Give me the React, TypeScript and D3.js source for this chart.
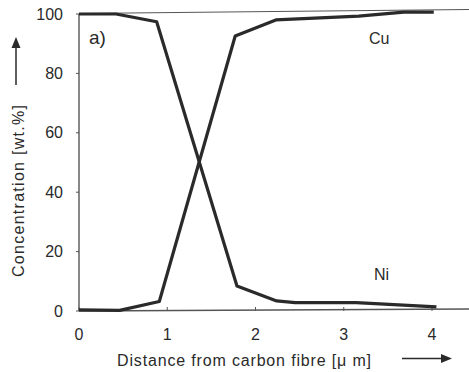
import React from 'react';
import * as d3 from 'd3';

// Ni / Cu concentration profile across the coating
const niX = [0, 0.42, 0.88, 1.79, 2.24, 2.45, 3.14, 4.05];
const niY = [100, 100, 97.4, 8.4, 3.4, 2.8, 2.8, 1.4];
const cuX = [0, 0.46, 0.91, 1.77, 2.23, 3.17, 3.68, 4.02];
const cuY = [0.4, 0.2, 3.2, 92.6, 98, 99.3, 100.6, 100.6];
const xTicks = [0, 1, 2, 3, 4];
const yTicks = [0, 20, 40, 60, 80, 100];

const W = 469;
const H = 372;
const font = 'Liberation Sans, Arial, sans-serif';

export default function App() {
  const x = d3.scaleLinear().domain([0, 4]).range([79, 432]);
  const y = d3.scaleLinear().domain([0, 100]).range([311, 14]);

  const line = d3.line<[number, number]>()
    .x((d) => x(d[0]))
    .y((d) => y(d[1]));

  const ni = niX.map((v, i) => [v, niY[i]] as [number, number]);
  const cu = cuX.map((v, i) => [v, cuY[i]] as [number, number]);

  const ink = '#2a2a2a';
  const axis = '#555';

  return (
    <svg width={W} height={H} style={{ position: 'absolute', left: 0, top: 0, background: '#fff' }}
      fontFamily={font}>
      {/* frame: left, bottom, top */}
      <line x1={x(0)} y1={y(0)} x2={x(0)} y2={y(100)} stroke={axis} strokeWidth={1.4} />
      <line x1={x(0)} y1={y(0)} x2={W} y2={y(0) - 2} stroke={axis} strokeWidth={1.4} />
      <line x1={x(0)} y1={y(100) - 0.5} x2={W} y2={y(100) - 4.5} stroke={axis} strokeWidth={1.2} />

      {yTicks.map((t) => (
        <g key={t}>
          <line x1={x(0) - 3} x2={x(0)} y1={y(t)} y2={y(t)} stroke={axis} strokeWidth={1} />
          <text x={63} y={y(t) + 5.5} textAnchor="end" fontSize={16} fill={ink}>{t}</text>
        </g>
      ))}
      {xTicks.map((t) => (
        <g key={t}>
          <line x1={x(t)} x2={x(t)} y1={y(0)} y2={y(0) - 4} stroke={axis} strokeWidth={1} />
          <text x={x(t)} y={340} textAnchor="middle" fontSize={16} fill={ink}>{t}</text>
        </g>
      ))}

      <path d={line(ni) ?? ''} fill="none" stroke={ink} strokeWidth={3.2} strokeLinejoin="round" />
      <path d={line(cu) ?? ''} fill="none" stroke={ink} strokeWidth={3.2} strokeLinejoin="round" />

      <text x={89} y={44} fontSize={19} fill={ink}>a)</text>
      <text x={369} y={44} fontSize={16} fill={ink}>Cu</text>
      <text x={374} y={280} fontSize={16} fill={ink}>Ni</text>

      {/* x title and arrow */}
      <text x={117} y={366} fontSize={16} fill={ink} textLength={254} lengthAdjust="spacing">
        Distance from carbon fibre [μ m]
      </text>
      <line x1={402} x2={443} y1={358.5} y2={358.5} stroke={ink} strokeWidth={1.5} />
      <path d="M441,354 L452,358.5 L441,363 Z" fill={ink} />

      {/* y title and arrow */}
      <text transform="translate(24,277) rotate(-90)" fontSize={16} fill={ink}
        textLength={172} lengthAdjust="spacing">
        Concentration [wt.%]
      </text>
      <line x1={16} x2={16} y1={85} y2={46} stroke={ink} strokeWidth={1.5} />
      <path d="M11.5,48 L16,37 L20.5,48 Z" fill={ink} />
    </svg>
  );
}
